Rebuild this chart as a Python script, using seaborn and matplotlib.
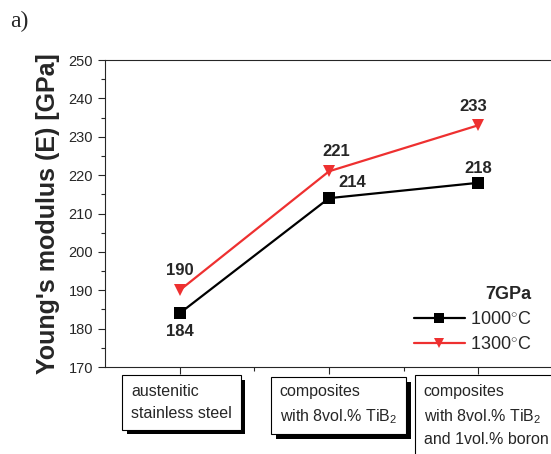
import pandas as pd
import numpy as np
import matplotlib
matplotlib.use('Agg')
import matplotlib.pyplot as plt
import matplotlib.patheffects as pe
from matplotlib.ticker import MultipleLocator
import seaborn as sns

categories = ['austenitic\nstainless steel',
              'composites\nwith 8vol.% TiB$_2$',
              'composites\nwith 8vol.% TiB$_2$\nand 1vol.% boron']
temps = ['1000$^{\\circ}$C', '1300$^{\\circ}$C']
e_1000 = [184, 214, 218]
e_1300 = [190, 221, 233]

df = pd.DataFrame({
    'pos': list(range(3)) * 2,
    'E': e_1000 + e_1300,
    'T': [temps[0]] * 3 + [temps[1]] * 3,
})

sns.set_style('ticks')
plt.rcParams['font.family'] = ['Liberation Sans', 'DejaVu Sans']
plt.rcParams['mathtext.fontset'] = 'custom'
plt.rcParams['mathtext.rm'] = 'Liberation Sans'
plt.rcParams['mathtext.it'] = 'Liberation Sans'

fig = plt.figure(figsize=(5.51, 4.54), dpi=100)
ax = fig.add_axes([0.1906, 0.1916, 0.813, 0.6762])

pal = {temps[0]: 'black', temps[1]: '#ee3030'}
sns.lineplot(data=df, x='pos', y='E', hue='T', style='T', palette=pal,
             markers={temps[0]: 's', temps[1]: 'v'}, dashes=False,
             markersize=9, markeredgewidth=0, linewidth=1.6, ax=ax)

ax.set_xlim(-0.5, 2.5)
ax.set_ylim(170, 250)
ax.yaxis.set_major_locator(MultipleLocator(10))
ax.yaxis.set_minor_locator(MultipleLocator(5))
ax.set_xticks(range(3))
ax.set_xticks([0.5, 1.5], minor=True)
ax.set_xticklabels([])
ax.tick_params(axis='both', which='major', direction='out', length=5, width=0.8, labelsize=10.5)
ax.tick_params(axis='both', which='minor', direction='out', length=3, width=0.8)
for s in ax.spines.values():
    s.set_linewidth(0.8)
ax.set_xlabel('')
ax.set_ylabel("Young's modulus (E) [GPa]", fontsize=18, fontweight='bold', labelpad=6)

# value labels
lab_kw = dict(fontsize=12, fontweight='bold', ha='center')
ax.annotate(str(e_1300[0]), (0, e_1300[0]), xytext=(0, 9), textcoords='offset points', va='bottom', **lab_kw)
ax.annotate(str(e_1000[0]), (0, e_1000[0]), xytext=(0, -8), textcoords='offset points', va='top', **lab_kw)
ax.annotate(str(e_1300[1]), (1, e_1300[1]), xytext=(5, 9), textcoords='offset points', va='bottom', **lab_kw)
ax.annotate(str(e_1000[1]), (1, e_1000[1]), xytext=(17, 6), textcoords='offset points', va='bottom', **lab_kw)
ax.annotate(str(e_1300[2]), (2, e_1300[2]), xytext=(-4, 8), textcoords='offset points', va='bottom', **lab_kw)
ax.annotate(str(e_1000[2]), (2, e_1000[2]), xytext=(0, 5), textcoords='offset points', va='bottom', **lab_kw)

# category boxes
box_left = [-0.326, 0.67, 1.634]
for i, cat in enumerate(categories):
    t = ax.text(box_left[i], -0.056, cat, transform=ax.get_xaxis_transform(),
                ha='left', va='top', fontsize=11.5, linespacing=1.55,
                bbox=dict(boxstyle='square,pad=0.55', fc='white', ec='black', lw=0.8))
    t.get_bbox_patch().set_path_effects([
        pe.SimplePatchShadow(offset=(3.5, -3.5), shadow_rgbFace='black', alpha=1.0),
        pe.Normal()])

leg = ax.legend(title='7GPa', frameon=False, loc='center right', bbox_to_anchor=(0.988, 0.155),
                fontsize=13, handlelength=2.8, handletextpad=0.3, labelspacing=0.45,
                alignment='right', markerscale=0.85)
leg.get_title().set_fontweight('bold')
leg.get_title().set_fontsize(13)

fig.text(0.018, 0.94, 'a)', fontsize=17, family='Liberation Serif')

fig.savefig('out.png', dpi=100)
